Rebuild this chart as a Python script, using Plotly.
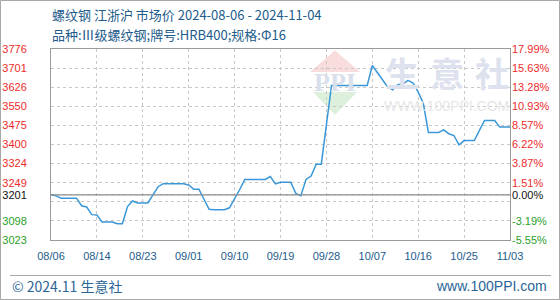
import plotly.graph_objects as go

# ---------------- data ----------------
days = list(range(91))  # 2024-08-06 .. 2024-11-04, one point per day
prices = [
    3201, 3197, 3188, 3188, 3188, 3188, 3158, 3153, 3123, 3122,
    3094, 3094, 3094, 3087, 3087, 3155, 3177, 3169, 3169, 3169,
    3201, 3233, 3245, 3245, 3245, 3245, 3245, 3240, 3223, 3223,
    3183, 3144, 3142, 3142, 3142, 3150, 3185, 3222, 3262, 3262,
    3262, 3262, 3262, 3273, 3244, 3251, 3251, 3251, 3207, 3198,
    3262, 3275, 3322, 3322, 3477, 3632, 3632, 3632, 3632, 3632,
    3632, 3632, 3632, 3711, 3685, 3655, 3626, 3615, 3635, 3638,
    3652, 3642, 3606, 3562, 3447, 3447, 3447, 3457, 3442, 3435,
    3398, 3415, 3415, 3415, 3455, 3494, 3494, 3494, 3468, 3468,
    3468,
]
base_price = 3201
y_min, y_max = 3023, 3776
left_tick_vals = [3023, 3098.3, 3173.6, 3248.9, 3324.2, 3399.5, 3474.8, 3550.1, 3625.4, 3700.7, 3776, 3201]
left_tick_text = ["3023", "3098", "", "3249", "3324", "3400", "3475", "3550", "3626", "3701", "3776", "3201"]
right_tick_text = ["-5.55%", "-3.19%", "", "1.51%", "3.87%", "6.22%", "8.57%", "10.93%", "13.28%", "15.63%", "17.99%", "0.00%"]
x_grid_days = list(range(0, 91, 9))
x_labels = ["08/06", "08/14", "08/23", "09/01", "09/10", "09/19", "09/28", "10/07", "10/16", "10/25", "11/03"]

title_text = "螺纹钢 江浙沪 市场价 2024-08-06 - 2024-11-04"
subtitle_text = "品种:Ⅲ级螺纹钢;牌号:HRB400;规格:Φ16"

# ---------------- layout helpers ----------------
W, H = 560, 300
L, R, T, B = 51, 510, 49, 240


def px(x):
    return (x - L) / (R - L)


def py(y):
    return (B - y) / (B - T)


RED, GREEN, BLACK = "#ee2b2b", "#2aa02a", "#111111"
BLUE_TXT = "#1d5c8c"


def colored(text, val):
    if text == "":
        return ""
    if abs(val - base_price) < 1:
        c = BLACK
    elif val > base_price:
        c = RED
    else:
        c = GREEN
    return f'<span style="color:{c}">{text}</span>'


left_tt = [colored(t, v) for t, v in zip(left_tick_text, left_tick_vals)]
right_tt = [colored(t, v) for t, v in zip(right_tick_text, left_tick_vals)]

fig = go.Figure()
fig.add_trace(go.Scatter(x=days, y=prices, mode="lines",
                         line=dict(color="#3a98d8", width=1.5),
                         hoverinfo="skip", showlegend=False))
# invisible trace for right axis
fig.add_trace(go.Scatter(x=[days[0]], y=[prices[0]], yaxis="y2", mode="lines",
                         line=dict(width=0), showlegend=False, hoverinfo="skip"))

grid = dict(showgrid=True, gridcolor="#c8c8c8", griddash="3px,3px", gridwidth=1)

fig.update_layout(
    width=W, height=H,
    margin=dict(l=L, r=W - R, t=T, b=H - B, autoexpand=False),
    paper_bgcolor="white", plot_bgcolor="white",
    font=dict(family="Liberation Sans, Arial, sans-serif", size=11),
    xaxis=dict(range=[0, 90], tickvals=x_grid_days, ticktext=x_labels, ticks="", automargin=False,
               ticklabelstandoff=6, tickfont=dict(size=11, color=BLUE_TXT),
               zeroline=False, showline=True, mirror=True, linecolor="#9a9a9a", linewidth=1,
               **grid),
    yaxis=dict(range=[y_min, y_max], tickvals=left_tick_vals, ticktext=left_tt, ticks="", automargin=False,
               zeroline=False, showline=True, mirror=True, linecolor="#9a9a9a", linewidth=1,
               ticklabelstandoff=21, tickfont=dict(size=11, color=RED), **grid),
    yaxis2=dict(range=[y_min, y_max], tickvals=left_tick_vals, ticktext=right_tt, ticks="", automargin=False,
                overlaying="y", side="right", showgrid=False, zeroline=False, showline=False,
                ticklabelstandoff=1, tickfont=dict(size=11, color=RED)),
)

shapes = []
# base line (0.00%)
shapes.append(dict(type="line", xref="paper", yref="y", x0=0, x1=1, y0=base_price, y1=base_price,
                   line=dict(color="#8c8c8c", width=1.2)))
# watermark logo
shapes.append(dict(type="path", xref="paper", yref="paper", layer="below",
                   path=f"M {px(310)} {py(72)} L {px(335)} {py(50.5)} L {px(360)} {py(72)} Z",
                   fillcolor="#f9dcdc", line=dict(width=0)))
shapes.append(dict(type="path", xref="paper", yref="paper", layer="below",
                   path=f"M {px(313)} {py(92)} L {px(357)} {py(92)} L {px(335)} {py(115)} Z",
                   fillcolor="#dcf0dc", line=dict(width=0)))
# footer separator
shapes.append(dict(type="line", xref="paper", yref="paper", x0=px(10), x1=px(551), y0=py(275.5), y1=py(275.5),
                   line=dict(color="#aaaaaa", width=1)))
# outer border
shapes.append(dict(type="rect", xref="paper", yref="paper", x0=px(0.5), x1=px(559.5), y0=py(0.5), y1=py(299.5),
                   line=dict(color="#a8a8a8", width=1), fillcolor="rgba(0,0,0,0)"))
fig.update_layout(shapes=shapes)

ann = []
cjk = "Noto Sans CJK SC, sans-serif"
ann.append(dict(text=title_text, xref="paper", yref="paper", x=px(50), y=py(15), xanchor="left", yanchor="middle",
                showarrow=False, font=dict(family=cjk, size=13, color=BLUE_TXT)))
ann.append(dict(text=subtitle_text, xref="paper", yref="paper", x=px(50), y=py(34), xanchor="left", yanchor="middle",
                showarrow=False, font=dict(family=cjk, size=13, color=BLUE_TXT)))
# watermark text
ann.append(dict(text="<b>PPI</b>", xref="paper", yref="paper", x=px(335), y=py(82), xanchor="center",
                yanchor="middle", showarrow=False,
                font=dict(family="Liberation Serif, serif", size=26, color="#d9dfec")))
for ch, cx in zip("生意社", [402, 447, 492]):
    ann.append(dict(text=f"<b>{ch}</b>", xref="paper", yref="paper", x=px(cx), y=py(72.5), xanchor="center",
                    yanchor="middle", showarrow=False, font=dict(family=cjk, size=34, color="#dde2ee")))
ann.append(dict(text="WWW.100PPI.COM", xref="paper", yref="paper", x=px(446.5), y=py(106), xanchor="center",
                yanchor="middle", showarrow=False, font=dict(size=14, color="#e6e6e6")))
# footer
ann.append(dict(text="© 2024.11 生意社", xref="paper", yref="paper", x=px(10), y=py(286), xanchor="left",
                yanchor="middle", showarrow=False, font=dict(family=cjk, size=14, color="#2a6597")))
ann.append(dict(text="www.100PPI.com", xref="paper", yref="paper", x=px(549), y=py(286), xanchor="right",
                yanchor="middle", showarrow=False, font=dict(size=14, color="#2a6597")))
fig.update_layout(annotations=ann)

fig.write_html("out.html")
